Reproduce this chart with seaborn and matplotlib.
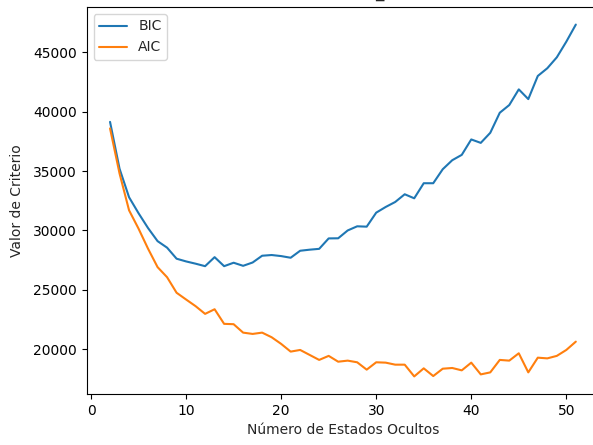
import matplotlib
matplotlib.use("Agg")
import matplotlib.pyplot as plt
import seaborn as sns
import numpy as np

estados = list(range(2, 52))
bic = [39150, 35200, 32800, 31450, 30200, 29100, 28550, 27620, 27390, 27200,
       26990, 27750, 26990, 27280, 27020, 27300, 27870, 27930, 27840, 27700,
       28290, 28380, 28450, 29330, 29340, 30000, 30350, 30320, 31500, 31980,
       32400, 33050, 32710, 33980, 33980, 35160, 35920, 36370, 37670, 37380,
       38230, 39920, 40570, 41890, 41070, 43020, 43670, 44590, 45910, 47350]
aic = [38600, 34800, 31700, 30150, 28460, 26910, 26060, 24750, 24180, 23620,
       22970, 23360, 22130, 22100, 21390, 21280, 21390, 21000, 20440, 19790,
       19930, 19510, 19090, 19430, 18940, 19030, 18890, 18270, 18890, 18860,
       18690, 18690, 17700, 18380, 17730, 18350, 18410, 18210, 18860, 17870,
       18040, 19090, 19030, 19650, 18040, 19280, 19220, 19430, 19930, 20630]

sns.set_style("white")
plt.rcParams["font.family"] = ["DejaVu Sans"]
plt.rcParams["axes.edgecolor"] = "black"
plt.rcParams["xtick.bottom"] = True
plt.rcParams["ytick.left"] = True
plt.rcParams["xtick.color"] = "black"
plt.rcParams["ytick.color"] = "black"

fig = plt.figure(figsize=(5.93, 4.45), dpi=100)
ax = fig.add_axes([0.1463, 0.1146, 0.864, 0.8697])
sns.lineplot(x=estados, y=bic, ax=ax, label="BIC", color="#1f77b4", linewidth=1.5)
sns.lineplot(x=estados, y=aic, ax=ax, label="AIC", color="#ff7f0e", linewidth=1.5)
ax.set_xlabel("Número de Estados Ocultos")
ax.set_ylabel("Valor de Criterio", labelpad=7)
ax.legend(loc="upper left")
for s in ax.spines.values():
    s.set_linewidth(0.8)
fig.text(379 / 593, 1 - 1 / 445, "_", ha="center", va="bottom", fontsize=12)
fig.savefig("out.png", dpi=100)
